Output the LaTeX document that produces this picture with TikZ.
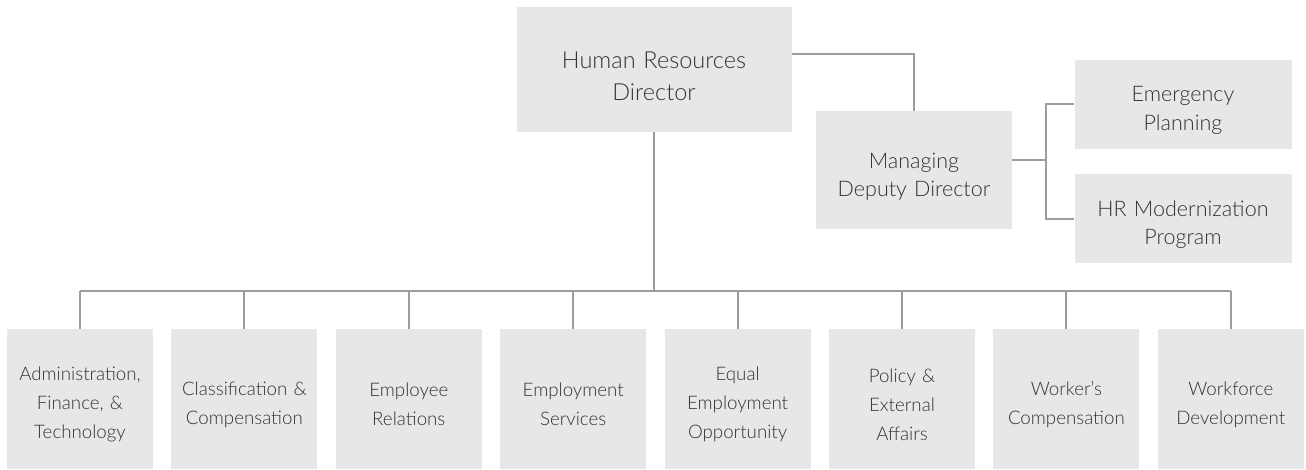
\documentclass[tikz,border=0pt]{standalone}
\usepackage{fontspec}
\setmainfont{Lato}[UprightFont=* Light]
\usetikzlibrary{positioning,calc}
\definecolor{boxgray}{HTML}{E6E7E8}
\definecolor{lngray}{HTML}{9D9D9D}
\definecolor{txgray}{HTML}{333333}
\tikzset{
  bx/.style={fill=boxgray,text=txgray,align=center,inner sep=0pt,
    execute at begin node={\rule{0pt}{1.3em}}},
  hd/.style={bx,minimum width=275pt,minimum height=125pt,text width=260pt,
    font=\fontsize{23.5}{32}\selectfont},
  md/.style={bx,minimum width=196pt,minimum height=118pt,text width=186pt,
    font=\fontsize{21.5}{28}\selectfont},
  sd/.style={bx,minimum width=217pt,minimum height=89pt,text width=207pt,
    font=\fontsize{21.5}{28.5}\selectfont},
  dp/.style={bx,minimum width=146pt,minimum height=140pt,text width=142pt,
    font=\fontsize{18.7}{29}\selectfont},
  lnk/.style={draw=lngray,line width=2pt},
}
\begin{document}
\begin{tikzpicture}[x=1pt,y=-1pt]
\useasboundingbox (0,0) rectangle (1306,469);
\node[hd] (hrd) at (654,69.5) {Human Resources\\Director};
\node[md] (mdd) at (914,170) {Managing\\Deputy Director};
\node[sd] (emp) at (1183,104) {Emergency\\Planning};
\node[sd] (hrm) at (1183,218.5) {HR Modernization\\Program};
% director to deputy, deputy to its two programs
\draw[lnk] ($(hrd.north east)!0.376!(hrd.south east)$) -| (mdd.north);
\coordinate (spine) at (1046,160);
\draw[lnk] (mdd.east |- spine) -- (spine);
\draw[lnk] (emp.west) -| (spine) |- (hrm.west);
% the eight divisions
\coordinate (bus) at (0,290.7);
\foreach \t [count=\i] in {{Administration,\\Finance, \&\\Technology},
    {Classification \&\\Compensation}, {Employee\\Relations},
    {Employment\\Services}, {Equal\\Employment\\Opportunity},
    {Policy \&\\External\\Affairs}, {Worker's\\Compensation},
    {Workforce\\Development}}
{
  \node[dp] (dp\i) at ({80+164.4*(\i-1)},399) {\t};
  \draw[lnk] (dp\i.north) -- (dp\i.north |- bus);
}
\draw[lnk] (dp1.north |- bus) -- (dp8.north |- bus);
\draw[lnk] (hrd.south) -- (hrd.south |- bus);
\end{tikzpicture}
\end{document}
